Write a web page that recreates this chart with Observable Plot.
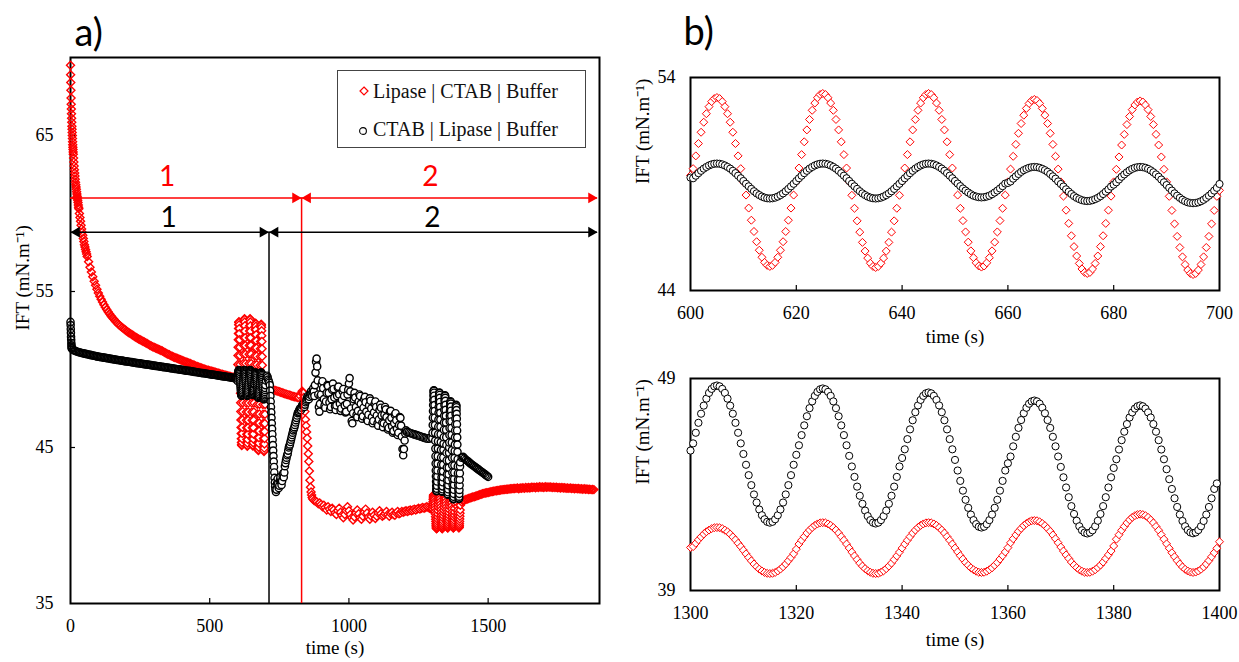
<!DOCTYPE html>
<html><head><meta charset="utf-8">
<script src="https://cdn.jsdelivr.net/npm/d3@7"></script>
<script src="https://cdn.jsdelivr.net/npm/@observablehq/plot@0.6"></script>
<style>
html,body{margin:0;padding:0;background:#fff;}
#wrap{position:relative;width:1239px;height:662px;overflow:hidden;background:#fff;}
.panel{position:absolute;}
.legend{position:absolute;left:337px;top:70px;width:249px;height:78px;border:1px solid #444;background:#fff;box-sizing:border-box;font-family:"Liberation Serif","Times New Roman",serif;font-size:20px;color:#111;}
.legend .sym{position:absolute;}
.legend .lab{position:absolute;left:35px;line-height:24px;white-space:nowrap;}
</style>
</head><body><div id="wrap"></div>
<script>
// ---------------- series / labels ----------------
const seriesNames = ["Lipase | CTAB | Buffer", "CTAB | Lipase | Buffer"];
const seriesColors = ["red", "black"];
const axisTitleY = "IFT (mN.m\u207B\u00B9)";
const axisTitleX = "time (s)";
const panelTitles = ["a)", "b)"];

// ticks
const aXTicks = [0, 500, 1000, 1500];
const aYTicks = [35, 45, 55, 65];
const bTopXTicks = [600, 620, 640, 660, 680, 700];
const bTopYTicks = [44, 54];
const bBotXTicks = [1300, 1320, 1340, 1360, 1380, 1400];
const bBotYTicks = [39, 49];

// time window of the oscillation experiments (panel a)
const oscillationWindow = [600, 1400];

// ---------------- panel b (top): 600-700 s, every 0.5 s ----------------
const bTopRed = [49.40,
49.72,50.32,50.90,51.43,51.90,52.30,52.63,52.87,53.01,53.06,53.01,52.87,52.63,52.30,51.90,51.43,50.90,50.32,49.72,
49.10,48.48,47.87,47.30,46.77,46.29,45.89,45.56,45.32,45.18,45.13,45.18,45.32,45.56,45.89,46.29,46.77,47.30,47.87,48.48,
49.10,49.75,50.38,50.98,51.54,52.03,52.46,52.80,53.05,53.20,53.25,53.20,53.05,52.80,52.46,52.03,51.54,50.98,50.38,49.75,
49.10,48.47,47.86,47.27,46.74,46.26,45.85,45.52,45.28,45.13,45.08,45.13,45.28,45.52,45.85,46.26,46.74,47.27,47.86,48.47,
49.10,49.75,50.38,50.98,51.54,52.03,52.46,52.80,53.05,53.20,53.25,53.20,53.05,52.80,52.46,52.03,51.54,50.98,50.38,49.75,
49.10,48.48,47.86,47.28,46.75,46.27,45.86,45.54,45.30,45.15,45.10,45.15,45.30,45.54,45.86,46.27,46.75,47.28,47.86,48.48,
49.10,49.70,50.30,50.86,51.38,51.84,52.23,52.55,52.78,52.92,52.97,52.92,52.78,52.55,52.23,51.84,51.38,50.86,50.30,49.70,
49.10,48.43,47.77,47.15,46.57,46.06,45.62,45.27,45.01,44.85,44.80,44.85,45.01,45.27,45.62,46.06,46.57,47.15,47.77,48.43,
49.10,49.69,50.27,50.83,51.33,51.79,52.17,52.49,52.71,52.85,52.90,52.85,52.71,52.49,52.17,51.79,51.33,50.83,50.27,49.69,
49.10,48.42,47.76,47.13,46.54,46.02,45.58,45.22,44.96,44.80,44.75,44.80,44.96,45.22,45.58,46.02,46.54,47.13,47.76,48.42,
48.70];
const bTopBlack = [49.30,
49.27,49.39,49.51,49.62,49.72,49.80,49.87,49.92,49.95,49.96,49.95,49.92,49.87,49.80,49.72,49.62,49.51,49.39,49.27,
49.14,49.01,48.89,48.77,48.66,48.56,48.48,48.41,48.36,48.33,48.32,48.33,48.36,48.41,48.48,48.56,48.66,48.77,48.89,49.01,
49.14,49.27,49.39,49.51,49.62,49.72,49.80,49.87,49.92,49.95,49.96,49.95,49.92,49.87,49.80,49.72,49.62,49.51,49.39,49.27,
49.14,49.01,48.89,48.77,48.66,48.56,48.48,48.41,48.36,48.33,48.32,48.33,48.36,48.41,48.48,48.56,48.66,48.77,48.89,49.01,
49.14,49.27,49.39,49.51,49.62,49.72,49.80,49.87,49.92,49.95,49.96,49.95,49.92,49.87,49.80,49.72,49.62,49.51,49.39,49.27,
49.14,49.02,48.90,48.79,48.69,48.60,48.52,48.45,48.41,48.38,48.37,48.38,48.41,48.45,48.52,48.60,48.69,48.79,48.90,49.02,
49.05,49.12,49.25,49.36,49.47,49.57,49.65,49.71,49.76,49.79,49.80,49.79,49.76,49.71,49.65,49.57,49.47,49.36,49.25,49.12,
49.00,48.88,48.75,48.64,48.53,48.43,48.35,48.29,48.24,48.21,48.20,48.21,48.24,48.29,48.35,48.43,48.53,48.64,48.75,48.88,
48.97,49.08,49.21,49.34,49.45,49.55,49.64,49.71,49.76,49.79,49.80,49.79,49.76,49.71,49.64,49.55,49.45,49.34,49.21,49.08,
48.95,48.82,48.69,48.56,48.45,48.35,48.26,48.19,48.14,48.11,48.10,48.11,48.14,48.19,48.26,48.35,48.45,48.56,48.69,48.82,
49.00];

// ---------------- panel b (bottom): 1300-1400 s, every 0.5 s ----------------
const bBotRed = [41.03,
41.07,41.23,41.39,41.53,41.66,41.77,41.85,41.92,41.96,41.97,41.96,41.92,41.85,41.77,41.66,41.53,41.39,41.23,41.07,
40.90,40.73,40.56,40.40,40.25,40.12,40.01,39.92,39.85,39.81,39.80,39.81,39.85,39.92,40.01,40.12,40.25,40.40,40.56,40.73,
40.95,41.19,41.37,41.54,41.71,41.85,41.97,42.07,42.14,42.19,42.20,42.19,42.14,42.07,41.97,41.85,41.71,41.54,41.37,41.19,
41.00,40.81,40.63,40.46,40.29,40.15,40.03,39.93,39.86,39.81,39.80,39.81,39.86,39.93,40.03,40.15,40.29,40.46,40.63,40.81,
41.00,41.19,41.37,41.54,41.71,41.85,41.97,42.07,42.14,42.19,42.20,42.19,42.14,42.07,41.97,41.85,41.71,41.54,41.37,41.19,
41.00,40.82,40.64,40.48,40.32,40.19,40.07,39.98,39.91,39.86,39.85,39.86,39.91,39.98,40.07,40.19,40.32,40.48,40.64,40.82,
41.02,41.25,41.44,41.62,41.79,41.93,42.06,42.16,42.24,42.29,42.30,42.29,42.24,42.16,42.06,41.93,41.79,41.62,41.44,41.25,
41.05,40.86,40.68,40.51,40.34,40.20,40.08,39.98,39.91,39.86,39.85,39.86,39.91,39.98,40.08,40.20,40.34,40.51,40.68,40.86,
41.10,41.42,41.63,41.84,42.02,42.19,42.33,42.45,42.53,42.58,42.60,42.58,42.53,42.45,42.33,42.19,42.02,41.84,41.63,41.42,
41.20,40.99,40.78,40.59,40.41,40.25,40.11,40.00,39.92,39.87,39.85,39.87,39.92,40.00,40.11,40.25,40.41,40.59,40.78,40.99,
41.30];
const bBotBlack = [45.60,
45.94,46.44,46.91,47.34,47.72,48.05,48.32,48.51,48.63,48.67,48.63,48.51,48.32,48.05,47.72,47.34,46.91,46.44,45.94,
45.44,44.93,44.44,43.97,43.53,43.15,42.82,42.55,42.36,42.24,42.20,42.24,42.36,42.55,42.82,43.15,43.53,43.97,44.44,44.93,
45.40,45.85,46.33,46.79,47.22,47.60,47.92,48.18,48.37,48.49,48.53,48.49,48.37,48.18,47.92,47.60,47.22,46.79,46.33,45.85,
45.35,44.85,44.36,43.90,43.47,43.09,42.77,42.51,42.32,42.20,42.16,42.20,42.32,42.51,42.77,43.09,43.47,43.90,44.36,44.85,
45.25,45.66,46.14,46.60,47.03,47.41,47.73,47.99,48.18,48.30,48.34,48.30,48.18,47.99,47.73,47.41,47.03,46.60,46.14,45.66,
45.16,44.66,44.17,43.71,43.28,42.90,42.58,42.32,42.13,42.01,41.97,42.01,42.13,42.32,42.58,42.90,43.28,43.71,44.17,44.66,
45.00,45.32,45.80,46.25,46.67,47.04,47.36,47.62,47.81,47.92,47.96,47.92,47.81,47.62,47.36,47.04,46.67,46.25,45.80,45.32,
44.83,44.34,43.86,43.40,42.98,42.61,42.29,42.03,41.84,41.73,41.69,41.73,41.84,42.03,42.29,42.61,42.98,43.40,43.86,44.34,
44.78,45.19,45.65,46.09,46.49,46.85,47.16,47.40,47.58,47.69,47.73,47.69,47.58,47.40,47.16,46.85,46.49,46.09,45.65,45.19,
44.72,44.25,43.79,43.35,42.94,42.58,42.28,42.03,41.85,41.74,41.70,41.74,41.85,42.03,42.28,42.58,42.94,43.35,43.79,44.05];

// ---------------- panel a: Lipase | CTAB | Buffer (red) ----------------
const redA0 = [69.5,68.9,68.4,67.9,67.4,67.0,66.7,66.4,66.1,65.85,65.6,65.4,65.2,65.0,64.8,64.6,64.4,64.25,64.1,63.95,63.8]; // 0-10 s, 0.5 s
const redA1 = [63.55,63.3,63.05,62.8,62.6,62.4,62.2,62.0,61.85,61.7,61.55,61.4,61.25,61.1,61.0,60.85,60.7,60.55,60.4,60.3]; // 11-30 s
const redA2 = [60.0,59.75,59.5,59.25,59.0,58.8,58.6,58.4,58.2,58.0,57.85,57.7,57.55,57.4,57.25]; // 32-60 s
const redA3 = [56.90,56.55,56.25,55.95,55.65,55.40,55.15,54.90,
54.70,54.50,54.32,54.15,53.99,53.84,53.70,53.57,53.45,53.34,53.23,53.13,53.03,52.94,52.85,52.77,
52.70,52.63,52.56,52.49,52.42,52.36,52.30,52.24,52.18,52.12,52.06,52.01,51.96,51.91,
51.86,51.81,51.76,51.71,51.66,51.61,51.56,51.51,51.46,51.42,51.38,51.34,51.30,51.26,51.22,51.18,51.13,51.08,51.03,50.98,50.94,50.89,50.85,50.80,
50.77,50.73,50.70,50.66,50.62,50.59,50.55,50.52,50.48,50.45,50.41,50.38,50.34,50.30,50.27,50.23,50.20,50.16,50.13,50.09,50.06,50.03,50.00,49.97,
49.95,49.92,49.90,49.87,49.85,49.82,49.80,49.77,49.75,49.72,49.70,49.67,49.65,49.62,49.60,49.57,49.55,49.52,49.50,49.48,49.45]; // 65-595 s
const redA5 = [48.75,48.78,48.78,48.75,48.72,48.69,48.66,48.63,48.60,48.57,48.54,48.51,48.48,48.45,48.42,48.39,48.36,48.33,48.30,48.27,48.25,48.23,48.21,48.20,48.30,48.50]; // 705-830 s
const redA6 = [48.60,48.55,48.50,48.20,47.80,47.30,46.80,46.40,46.00,45.60,45.10,44.60,44.10,43.50,42.90,42.45,42.15,41.95,41.80,41.70]; // 832-870 s
const redA7 = [41.6,41.55,41.5,41.4,41.45,41.35,41.2,41.3,41.15,41.0,41.2,41.05,40.9,41.1,41.0,40.8,40.7,40.95,41.1,40.85,40.65,40.5,40.7,40.95,41.2,40.95,
40.7,40.5,40.35,40.55,40.8,41.0,40.75,40.5,40.4,40.6,40.85,41.05,40.8,40.55,40.4,40.6,40.85,40.65,40.45,40.6,
40.8,40.95,40.75,40.6,40.65,40.75,40.9,40.7,40.6,40.75,40.85,40.7,40.65,40.8,40.9,40.75,40.8,40.9,40.85,40.9,
40.95,40.9,40.95,41.0,40.95,41.0,41.05,41.0,41.05,41.1,41.05,41.1,41.15,41.1,41.15,41.2,41.15,41.1,41.05]; // 875-1295 s
const redA9 = [41.50,41.57,41.62,41.66,41.70,41.73,41.76,41.79,41.82,41.85,41.88,41.91,41.94,41.97,42.00,42.03,42.06,42.08,42.10,42.12,
42.14,42.16,42.18,42.20,42.22,42.23,42.25,42.26,42.27,42.29,42.30,42.31,42.32,42.33,42.34,42.35,42.36,42.37,42.37,42.38,
42.40,42.36,42.41,42.39,42.42,42.38,42.43,42.41,42.44,42.40,42.45,42.43,42.46,42.42,42.47,42.44,42.48,42.45,42.47,42.44,
42.48,42.45,42.47,42.46,42.47,42.44,42.46,42.43,42.45,42.42,42.44,42.41,42.43,42.40,42.42,42.39,42.41,42.38,42.40,42.37,
42.39,42.36,42.38,42.35,42.37,42.34,42.36,42.33,42.35,42.32,42.34,42.31,42.33,42.30,42.31,42.30]; // 1405-1880 s

// ---------------- panel a: CTAB | Lipase | Buffer (black) ----------------
const blackA0 = [53.05,52.85,52.60,52.35,52.10,51.90,51.70,51.55,51.45,51.38,51.33]; // 0-5 s
const blackA1 = [51.25,51.21,51.17,51.14,51.11,51.09,51.06,51.04,51.02,51.00,
50.98,50.96,50.94,50.92,50.90,50.88,50.86,50.84,50.82,50.81,
50.79,50.78,50.76,50.75,50.73,50.72,50.70,50.68,50.67,50.65,
50.64,50.62,50.61,50.59,50.58,50.57,50.55,50.53,50.52,50.51,
50.50,50.48,50.47,50.45,50.44,50.42,50.41,50.40,50.39,50.37,
50.36,50.34,50.33,50.32,50.31,50.29,50.28,50.26,50.25,50.23,
50.22,50.21,50.20,50.18,50.17,50.15,50.14,50.13,50.12,50.10,
50.09,50.07,50.06,50.04,50.03,50.02,50.01,49.99,49.98,49.96,
49.95,49.93,49.92,49.91,49.90,49.88,49.87,49.85,49.84,49.82,
49.81,49.79,49.78,49.77,49.76,49.74,49.73,49.71,49.70,49.68,
49.67,49.66,49.65,49.63,49.62,49.60,49.59,49.57,49.56,49.55,
49.54,49.52,49.51,49.49,49.48,49.46,49.45,49.40]; // 10-595 s
const blackA3 = [49.30,49.50,49.60,49.50,49.35,49.25,49.15,49.00]; // 702-716 s
const blackA4 = [48.65,48.30,47.95,47.60,47.25,46.90,46.55,46.20,45.85,45.50,45.15,44.80,44.45,44.10,43.75,43.40,43.05,42.75,42.50,42.30]; // 717-736 s
const blackA5 = [42.15,42.30,42.70,43.00,42.70,42.40,42.55,42.90,43.10,42.80,42.60,42.85,43.15,43.35,43.10,43.40,43.80,44.00,44.20,44.35,
44.50,44.60,44.80,45.00,45.10,45.20,45.35,45.50,45.65,45.80,45.95,46.10,46.20,46.30,46.45,46.60,46.75,46.90,47.05,47.20,
47.25,47.30,47.40,47.50,47.45,47.40,47.55,47.70,47.75,47.80,47.70,47.60,47.75,47.90,48.00,48.10,48.20,48.30,48.20,48.10,
48.25,48.40,48.50,48.60,48.45,48.30,48.55,48.80,48.60,48.30,49.00,49.80,50.50,50.70,50.20,49.30,48.40,47.60,47.30,47.80,48.30]; // 738-898 s
const blackA6 = [48.40,49.05,49.25,48.80,48.10,47.70,47.55,47.95,
48.50,49.00,48.95,48.50,47.90,47.45,47.60,48.10,
48.70,49.10,48.75,48.20,47.65,47.40,47.70,48.30,
48.85,48.90,48.40,47.80,47.35,47.50,48.05,48.60,
48.75,48.30,47.70,47.25,47.30,47.80,48.40,48.70,
49.10,49.45,48.60,47.50,46.70,46.55,47.20,48.10,
48.50,48.20,47.60,47.10,46.95,47.35,47.95,48.40,
48.30,47.80,47.20,46.85,47.00,47.55,48.10,48.25,
47.90,47.30,46.80,46.70,47.10,47.70,48.15,48.00,
47.50,46.95,46.55,46.70,47.25,47.80,47.95,47.60,
47.05,46.55,46.40,46.80,47.40,47.75,47.55,47.05,
46.60,46.30,46.55,47.10,47.60,47.45,46.95,46.45,
46.15,46.25,46.75,47.30,47.35,46.90,46.35,45.95,
46.05,46.55,47.10,47.20,46.75,46.20,45.80,45.95,
46.45,46.95,46.90,46.40,45.70,44.90,44.50,44.90,
45.45,45.90,46.10,46.00]; // 900-1207.5 s, every 2.5 s
const blackA7 = [46.00,45.96,45.93,45.90,45.87,45.84,45.81,45.78,45.75,45.72,45.69,45.66,45.63,45.60,45.58,45.56,45.58,45.65]; // 1210-1295 s
const blackA9 = [44.35,44.40,44.30,44.22,44.15,44.08,44.00,43.93,43.86,43.80,43.73,43.66,43.60,43.53,43.46,43.40,43.33,43.26,43.19,43.12]; // 1405-1500 s

// phase annotations (panel a)
const phaseSegments = [
  {series: 0, t1: 0, t2: 830, level: 61.0},
  {series: 0, t1: 830, t2: 1893, level: 61.0},
  {series: 1, t1: 0, t2: 713, level: 58.8},
  {series: 1, t1: 713, t2: 1893, level: 58.8}
];
const phaseBoundaries = [{series: 0, t: 830, level: 61.0}, {series: 1, t: 713, level: 58.8}];
const phaseLabels = [
  {series: 0, text: "1", t: 347, level: 61.78},
  {series: 0, text: "2", t: 1293, level: 61.78},
  {series: 1, text: "1", t: 352, level: 59.15},
  {series: 1, text: "2", t: 1300, level: 59.15}
];

// ---------------- build ----------------
function seg(t0, dt, values) { return values.map((v, i) => ({t: t0 + i * dt, v})); }
const redA = [...seg(0, 0.5, redA0), ...seg(11, 1, redA1), ...seg(32, 2, redA2), ...seg(65, 5, redA3),
  ...seg(600, 0.5, bTopRed), ...seg(705, 5, redA5), ...seg(832, 2, redA6), ...seg(875, 5, redA7),
  ...seg(1300, 0.5, bBotRed), ...seg(1405, 5, redA9)];
const blackA = [...seg(0, 0.5, blackA0), ...seg(10, 5, blackA1), ...seg(600, 0.5, bTopBlack),
  ...seg(702, 2, blackA3), ...seg(717, 1, blackA4), ...seg(738, 2, blackA5), ...seg(900, 2.5, blackA6),
  ...seg(1210, 5, blackA7), ...seg(1300, 0.5, bBotBlack), ...seg(1405, 5, blackA9)];

const serif = "'Liberation Serif','Times New Roman',serif";
const sans = "Lato, 'Open Sans', sans-serif";
const MR = 3.6;

function seriesMarks(red, black, sw, fillFn) {
  return [
    Plot.dot(red, {x: "t", y: "v", symbol: "diamond2", r: MR, stroke: seriesColors[0], fill: fillFn, strokeWidth: sw}),
    Plot.dot(black, {x: "t", y: "v", symbol: "circle", r: MR, stroke: seriesColors[1], fill: fillFn, strokeWidth: sw})
  ];
}
function frameMarks(cfg) {
  const innerH = cfg.height - cfg.marginTop - cfg.marginBottom;
  const innerW = cfg.width - cfg.marginLeft - cfg.marginRight;
  const xd = cfg.xDomain, yd = cfg.yDomain;
  return [
    Plot.frame({stroke: "black", strokeWidth: 2}),
    Plot.tickX(cfg.xTicks.filter(d => d > xd[0] && d < xd[1]), {x: d => d, stroke: "black", strokeWidth: 1.2, insetTop: innerH - 5}),
    Plot.tickY(cfg.yTicks.filter(d => d > yd[0] && d < yd[1]), {y: d => d, stroke: "black", strokeWidth: 1.2, insetRight: innerW - 5}),
    Plot.axisX({ticks: cfg.xTicks, tickSize: 0, tickPadding: 16, label: null, tickFormat: d => String(d)}),
    Plot.axisY({ticks: cfg.yTicks, tickSize: 0, tickPadding: cfg.yPad, label: null, tickFormat: d => String(d)}),
    Plot.text([axisTitleX], {frameAnchor: "bottom", text: d => d, lineAnchor: "bottom", dy: cfg.xLabelDy, fontSize: 19}),
    Plot.text([axisTitleY], {frameAnchor: "left", text: d => d, rotate: -90, lineAnchor: "top", dx: -55, fontSize: 19})
  ];
}
function makePlot(cfg, marks) {
  return Plot.plot({
    width: cfg.width, height: cfg.height,
    marginLeft: cfg.marginLeft, marginRight: cfg.marginRight, marginTop: cfg.marginTop, marginBottom: cfg.marginBottom,
    x: {domain: cfg.xDomain}, y: {domain: cfg.yDomain},
    style: {fontFamily: serif, fontSize: "18px", color: "black", background: "transparent", overflow: "visible", maxWidth: "none"},
    marks
  });
}
function place(el, left, top, w, h) {
  const d = document.createElement("div");
  d.className = "panel";
  d.style.left = left + "px"; d.style.top = top + "px";
  d.style.width = w + "px"; d.style.height = h + "px";
  d.appendChild(el);
  document.getElementById("wrap").appendChild(d);
  return d;
}

// Panel a: dense relaxation runs drawn as open markers, oscillation runs as white-filled markers
const fillA = d => (d.t >= oscillationWindow[0] && d.t <= oscillationWindow[1]) ? "white" : "none";
const cfgA = {width: 620, height: 662, marginLeft: 70, marginRight: 21, marginTop: 57, marginBottom: 59,
  xDomain: [0, 1900], yDomain: [35, 70], xTicks: aXTicks, yTicks: aYTicks, yPad: 17, xLabelDy: 50};
const plotA = makePlot(cfgA, [
  ...frameMarks(cfgA),
  ...seriesMarks(redA, blackA, 1.4, fillA),
  Plot.ruleX(phaseBoundaries, {x: "t", y1: 35, y2: "level", stroke: d => seriesColors[d.series], strokeWidth: 1.5}),
  Plot.ruleY(phaseSegments, {y: "level", x1: "t1", x2: "t2", stroke: d => seriesColors[d.series], strokeWidth: 1.5}),
  Plot.dot(phaseSegments, {x: "t1", y: "level", symbol: "triangle", r: 4, rotate: -90, dx: 6.2, fill: d => seriesColors[d.series], stroke: "none"}),
  Plot.dot(phaseSegments, {x: "t2", y: "level", symbol: "triangle", r: 4, rotate: 90, dx: -6.2, fill: d => seriesColors[d.series], stroke: "none"}),
  Plot.text(phaseLabels, {x: "t", y: "level", text: "text", fill: d => seriesColors[d.series], fontFamily: sans, fontSize: 28, lineAnchor: "bottom"}),
  Plot.text([panelTitles[0]], {frameAnchor: "top-left", text: d => d, textAnchor: "start", lineAnchor: "bottom", dx: 4, dy: -12, fontFamily: sans, fontSize: 38})
]);
place(plotA, 0, 0, 620, 662);

// Panel b top
const cfgBT = {width: 619, height: 350, marginLeft: 70, marginRight: 20, marginTop: 77, marginBottom: 60,
  xDomain: [600, 700], yDomain: [44, 54], xTicks: bTopXTicks, yTicks: bTopYTicks, yPad: 15, xLabelDy: 52};
const plotBT = makePlot(cfgBT, [
  ...frameMarks(cfgBT),
  ...seriesMarks(seg(600, 0.5, bTopRed), seg(600, 0.5, bTopBlack), 1, "white"),
  Plot.text([panelTitles[1]], {frameAnchor: "top-left", text: d => d, textAnchor: "start", lineAnchor: "bottom", dx: -7, dy: -33, fontFamily: sans, fontSize: 38})
]);
place(plotBT, 620, 0, 619, 350);

// Panel b bottom
const cfgBB = {width: 619, height: 312, marginLeft: 70, marginRight: 20, marginTop: 28, marginBottom: 72,
  xDomain: [1300, 1400], yDomain: [39, 49], xTicks: bBotXTicks, yTicks: bBotYTicks, yPad: 15, xLabelDy: 55};
const plotBB = makePlot(cfgBB, [
  ...frameMarks(cfgBB),
  ...seriesMarks(seg(1300, 0.5, bBotRed), seg(1300, 0.5, bBotBlack), 1, "white")
]);
place(plotBB, 620, 350, 619, 312);

// Legend (panel a)
const legend = document.createElement("div");
legend.className = "legend";
const rowTops = [8, 46];
const symCenters = [20, 60];
seriesNames.forEach((name, i) => {
  const s = document.createElementNS("http://www.w3.org/2000/svg", "svg");
  s.setAttribute("width", 12); s.setAttribute("height", 12);
  s.setAttribute("class", "sym");
  s.style.left = (25 - 6 + (i === 0 ? 1 : 0)) + "px";
  s.style.top = (symCenters[i] - 6) + "px";
  if (i === 0) {
    const p = document.createElementNS("http://www.w3.org/2000/svg", "path");
    p.setAttribute("d", "M6,2L10,6L6,10L2,6Z");
    p.setAttribute("fill", "white"); p.setAttribute("stroke", seriesColors[0]); p.setAttribute("stroke-width", "1.2");
    s.appendChild(p);
  } else {
    const c = document.createElementNS("http://www.w3.org/2000/svg", "circle");
    c.setAttribute("cx", 6); c.setAttribute("cy", 6); c.setAttribute("r", 3.4);
    c.setAttribute("fill", "white"); c.setAttribute("stroke", seriesColors[1]); c.setAttribute("stroke-width", "1.1");
    s.appendChild(c);
  }
  legend.appendChild(s);
  const t = document.createElement("div");
  t.className = "lab";
  t.style.top = rowTops[i] + "px";
  t.textContent = name;
  legend.appendChild(t);
});
document.getElementById("wrap").appendChild(legend);
</script></body></html>
